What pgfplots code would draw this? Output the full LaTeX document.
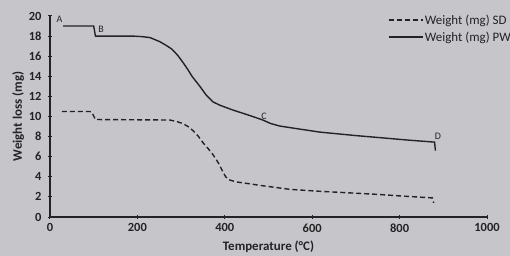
\documentclass[border=0pt]{standalone}
\usepackage{fontspec}
\setmainfont{Carlito}
\usepackage{pgfplots}
\pgfplotsset{compat=1.18}
\definecolor{bg}{RGB}{198,198,202}
\definecolor{ink}{RGB}{35,35,38}
\begin{document}
\begin{tikzpicture}
\fill[bg] (-50bp,-39bp) rectangle (460bp,217bp);
\begin{axis}[
  scale only axis, width=437bp, height=201bp,
  xmin=0, xmax=1000, ymin=0, ymax=20,
  axis lines=left,
  axis line style={-, ink, line width=1.4bp},
  xtick={0,200,...,1000}, ytick={0,2,...,20},
  tick align=center, major tick length=4bp,
  tick style={ink, line width=1bp},
  /pgf/number format/assume math mode=true,
  /pgf/number format/1000 sep={},
  ticklabel style={font=\fontsize{12.5}{13}\selectfont\bfseries, text=ink},
  xticklabel style={yshift=-1bp},
  yticklabel style={xshift=-3bp},
  xlabel={Temperature (°C)},
  xlabel style={at={(axis description cs:0.5,-0.149)}, anchor=center, font=\fontsize{13}{15}\selectfont\bfseries, text=ink},
  ylabel={Weight loss (mg)},
  ylabel style={at={(axis description cs:-0.073,0.5)}, anchor=center, font=\fontsize{13}{15}\selectfont\bfseries, text=ink},
  legend style={at={(rel axis cs:0.773,1.015)}, anchor=north west, draw=none, fill=none,
    inner sep=0pt, font=\fontsize{13}{14}\selectfont, text=ink, row sep=3bp,
    nodes={inner sep=1.5bp}},
  legend cell align=left,
  legend image code/.code={\draw[#1] (0bp,0bp) -- (34bp,0bp);},
  clip=false,
]
\addplot[ink, line width=1.4bp, dash pattern=on 5bp off 3bp] coordinates {
(27,10.5) (91,10.5) (96,10.4) (104,9.7) (274,9.65) (290,9.5) (304,9.3) (316,9.0)
(327,8.6) (340,8.0) (350,7.4) (362,6.8) (373,6.2) (385,5.4) (395,4.55) (402,4.0)
(410,3.7) (425,3.5) (457,3.3) (480,3.15) (549,2.75) (620,2.55) (686,2.4)
(750,2.25) (800,2.1) (875,1.9) (878,1.4)
};
\addlegendentry{Weight (mg) SD}
\addplot[ink, line width=1.4bp] coordinates {
(30,19.0) (96,19.0) (100,19.0) (104,18.0) (190,18.0) (210,17.95) (229,17.85)
(251,17.45) (265,17.1) (279,16.7) (292,16.1) (304,15.4) (315,14.7) (325,14.0)
(343,13.0) (358,12.1) (373,11.45) (390,11.1) (418,10.65) (457,10.1) (487,9.65)
(505,9.3) (526,9.05) (571,8.75) (617,8.45) (700,8.1) (754,7.9) (820,7.65)
(880,7.45) (882,6.6)
};
\addlegendentry{Weight (mg) PW}
\node[font=\fontsize{10}{10}\selectfont, text=ink] at (axis cs:22,19.7) {A};
\node[font=\fontsize{10}{10}\selectfont, text=ink] at (axis cs:117,18.7) {B};
\node[font=\fontsize{10}{10}\selectfont, text=ink] at (axis cs:490,10.05) {C};
\node[font=\fontsize{10}{10}\selectfont, text=ink] at (axis cs:888,8.05) {D};
\end{axis}
\pgfresetboundingbox
\path[use as bounding box] (-50bp,-39bp) rectangle (460bp,217bp);
\end{tikzpicture}
\end{document}
